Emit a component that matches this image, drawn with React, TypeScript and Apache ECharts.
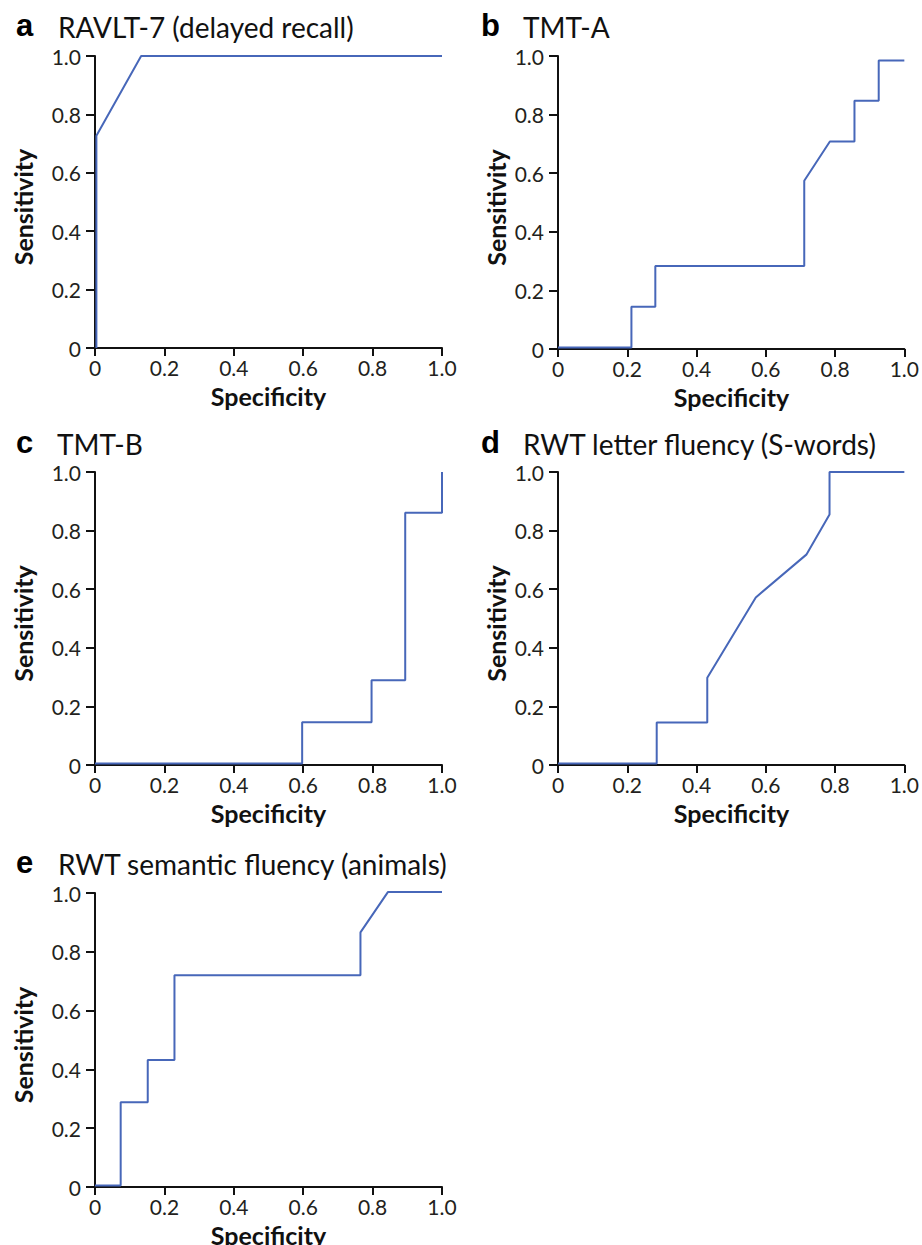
import React, { useEffect, useRef } from "react";
import * as echarts from "echarts";

// ---- Data ----
const panelLetters = ["a", "b", "c", "d", "e"];
const panelTitles = [
  "RAVLT-7 (delayed recall)",
  "TMT-A",
  "TMT-B",
  "RWT letter fluency (S-words)",
  "RWT semantic fluency (animals)",
];

// Specificity (x) and Sensitivity (y) of each ROC curve
const ravltSpec = [0.004, 0.004, 0.133, 1.0];
const ravltSens = [0, 0.727, 1.0, 1.0];

const tmtASpec = [0, 0.212, 0.212, 0.281, 0.281, 0.711, 0.711, 0.785, 0.856, 0.856, 0.926, 0.926, 1.0];
const tmtASens = [0.005, 0.005, 0.144, 0.144, 0.283, 0.283, 0.574, 0.708, 0.708, 0.847, 0.847, 0.985, 0.985];

const tmtBSpec = [0, 0.597, 0.597, 0.797, 0.797, 0.894, 0.894, 1.0, 1.0];
const tmtBSens = [0.005, 0.005, 0.146, 0.146, 0.289, 0.289, 0.861, 0.861, 1.0];

const letterSpec = [0, 0.285, 0.285, 0.431, 0.431, 0.571, 0.717, 0.784, 0.784, 1.0];
const letterSens = [0.005, 0.005, 0.145, 0.145, 0.298, 0.572, 0.718, 0.855, 1.0, 1.0];

const animalSpec = [0, 0.074, 0.074, 0.152, 0.152, 0.229, 0.229, 0.765, 0.765, 0.844, 1.0];
const animalSens = [0.005, 0.005, 0.288, 0.288, 0.432, 0.432, 0.72, 0.72, 0.866, 1.003, 1.003];

const curves = [
  [ravltSpec, ravltSens],
  [tmtASpec, tmtASens],
  [tmtBSpec, tmtBSens],
  [letterSpec, letterSens],
  [animalSpec, animalSens],
];

const axisMin = 0;
const axisMax = 1;
const axisStep = 0.2;
const xAxisName = "Specificity";
const yAxisName = "Sensitivity";

// ---- Layout ----
const grids = [
  { left: 95, top: 56, width: 347, height: 292 },
  { left: 558, top: 56, width: 347, height: 293 },
  { left: 95, top: 472, width: 347, height: 293 },
  { left: 558, top: 472, width: 347, height: 293 },
  { left: 95, top: 893, width: 347, height: 294 },
];
const titlePos = [
  { lx: 16, tx: 58, base: 35 },
  { lx: 481, tx: 523, base: 35 },
  { lx: 16, tx: 57, base: 452 },
  { lx: 481, tx: 523, base: 452 },
  { lx: 16, tx: 58, base: 872 },
];
const yNameX = [23, 496, 23, 496, 23];

const LINE_COLOR = "#4767b9";
const AXIS_COLOR = "#111111";
const TEXT_COLOR = "#231f20";
const FONT = "Lato, 'Open Sans', sans-serif";

export default function App() {
  const ref = useRef<HTMLDivElement>(null);

  useEffect(() => {
    if (!ref.current) return;
    const chart = echarts.init(ref.current, undefined, { renderer: "svg" });

    const fmt = (v: number) => (v === 0 ? "0" : v.toFixed(1));

    const xAxes = grids.map((_, i) => ({
      type: "value",
      gridIndex: i,
      min: axisMin,
      max: axisMax,
      interval: axisStep,
      splitLine: { show: false },
      axisLine: { show: true, onZero: false, lineStyle: { color: AXIS_COLOR, width: 2 } },
      axisTick: { show: true, length: 8, lineStyle: { color: AXIS_COLOR, width: 2 } },
      axisLabel: {
        formatter: fmt,
        color: TEXT_COLOR,
        fontSize: 21,
        fontFamily: FONT,
        margin: 9,
      },
    }));
    const yAxes = grids.map((_, i) => ({
      type: "value",
      gridIndex: i,
      min: axisMin,
      max: axisMax,
      interval: axisStep,
      splitLine: { show: false },
      axisLine: { show: true, onZero: false, lineStyle: { color: AXIS_COLOR, width: 2 } },
      axisTick: { show: true, length: 9, lineStyle: { color: AXIS_COLOR, width: 2 } },
      axisLabel: {
        formatter: fmt,
        color: TEXT_COLOR,
        fontSize: 21,
        fontFamily: FONT,
        margin: 14,
      },
    }));

    const series = curves.map(([xs, ys], i) => ({
      type: "line",
      xAxisIndex: i,
      yAxisIndex: i,
      data: xs.map((x, k) => [x, ys[k]]),
      showSymbol: false,
      symbol: "none",
      clip: false,
      lineStyle: { color: LINE_COLOR, width: 2 },
    }));

    const graphics: any[] = [];
    grids.forEach((g, i) => {
      const tp = titlePos[i];
      graphics.push({
        type: "text",
        x: tp.lx,
        y: tp.base + 6,
        style: {
          text: panelLetters[i],
          font: "bold 31px 'Liberation Sans', Arial, sans-serif",
          fill: "#000",
          verticalAlign: "bottom",
        },
      });
      graphics.push({
        type: "text",
        x: tp.tx,
        y: tp.base + 6,
        style: {
          text: panelTitles[i],
          font: `28px ${FONT}`,
          fill: "#111",
          verticalAlign: "bottom",
        },
      });
      graphics.push({
        type: "text",
        x: g.left + g.width / 2,
        y: g.top + g.height + 48,
        style: {
          text: xAxisName,
          font: `bold 25px ${FONT}`,
          fill: "#111",
          align: "center",
          verticalAlign: "middle",
        },
      });
      graphics.push({
        type: "text",
        x: yNameX[i],
        y: g.top + g.height / 2 + 5,
        rotation: Math.PI / 2,
        style: {
          text: yAxisName,
          font: `bold 25px ${FONT}`,
          fill: "#111",
          align: "center",
          verticalAlign: "middle",
        },
      });
    });

    chart.setOption({
      animation: false,
      backgroundColor: "#ffffff",
      grid: grids.map((g) => ({ ...g, containLabel: false })),
      xAxis: xAxes,
      yAxis: yAxes,
      series,
      graphic: graphics,
    });

    return () => chart.dispose();
  }, []);

  return (
    <div
      ref={ref}
      style={{ position: "absolute", left: 0, top: 0, width: 922, height: 1245 }}
    />
  );
}
